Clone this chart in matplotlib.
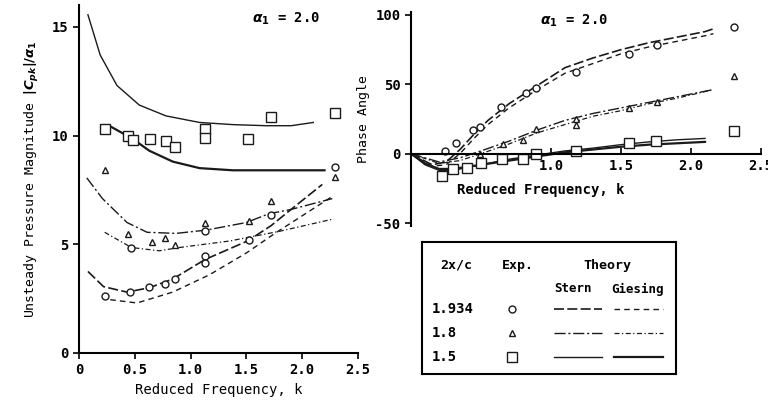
import matplotlib
matplotlib.use("Agg")
import matplotlib.pyplot as plt

plt.rcParams["font.family"] = "DejaVu Sans Mono"
plt.rcParams["font.weight"] = "bold"
plt.rcParams["mathtext.fontset"] = "dejavusans"
plt.rcParams["axes.unicode_minus"] = False

# ---- magnitude plot (left) ----
sq_k = [0.23, 0.44, 0.48, 0.64, 0.78, 0.86, 1.13, 1.13, 1.51, 1.72, 2.29]
sq_v = [10.3, 10.0, 9.8, 9.85, 9.75, 9.45, 10.3, 9.9, 9.85, 10.85, 11.05]
tri_k = [0.23, 0.44, 0.65, 0.77, 0.86, 1.13, 1.52, 1.72, 2.29]
tri_v = [8.4, 5.45, 5.1, 5.3, 4.95, 6.0, 6.05, 7.0, 8.1]
circ_k = [0.23, 0.46, 0.47, 0.63, 0.77, 0.86, 1.13, 1.13, 1.13, 1.52, 1.72, 2.29]
circ_v = [2.6, 2.8, 4.85, 3.05, 3.15, 3.4, 5.6, 4.45, 4.15, 5.2, 6.35, 8.55]

stern15_k = [0.08, 0.19, 0.34, 0.54, 0.78, 1.08, 1.38, 1.68, 1.9, 2.1]
stern15_v = [15.55, 13.7, 12.3, 11.4, 10.9, 10.6, 10.5, 10.45, 10.45, 10.6]
gies15_k = [0.27, 0.48, 0.63, 0.84, 1.08, 1.38, 1.8, 2.2]
gies15_v = [10.45, 9.85, 9.3, 8.8, 8.5, 8.4, 8.4, 8.4]
stern18_k = [0.07, 0.21, 0.43, 0.61, 0.87, 1.14, 1.5, 1.7, 1.9, 2.27]
stern18_v = [8.05, 7.1, 6.0, 5.55, 5.5, 5.65, 6.0, 6.4, 6.6, 7.1]
gies18_k = [0.23, 0.47, 0.72, 0.9, 1.35, 1.8, 2.27]
gies18_v = [5.55, 4.85, 4.7, 4.85, 5.15, 5.6, 6.15]
stern193_k = [0.08, 0.22, 0.43, 0.63, 0.84, 1.13, 1.51, 1.72, 1.9, 2.18]
stern193_v = [3.75, 3.05, 2.8, 3.0, 3.4, 4.3, 5.15, 5.85, 6.6, 7.75]
gies193_k = [0.28, 0.52, 0.84, 1.17, 1.5, 1.77, 2.27]
gies193_v = [2.45, 2.3, 2.8, 3.6, 4.6, 5.55, 7.2]

# ---- phase plot (right) ----
sq_k_r = [0.22, 0.3, 0.4, 0.5, 0.65, 0.8, 0.89, 1.18, 1.56, 1.75, 2.31]
sq_p_r = [-16, -11, -10, -7, -4, -4, -0.5, 2, 7.5, 9, 16]
tri_k_r = [0.49, 0.66, 0.8, 0.89, 1.18, 1.18, 1.56, 1.76, 2.31]
tri_p_r = [0, 7, 10, 18, 25, 21, 33, 37, 56]
circ_k_r = [0.24, 0.32, 0.44, 0.49, 0.64, 0.82, 0.89, 1.18, 1.56, 1.76, 2.31]
circ_p_r = [2, 8, 17, 19, 34, 44, 47, 59, 72, 78, 91]

ph193_k = [0, 0.15, 0.25, 0.35, 0.45, 0.55, 0.7, 0.9, 1.1, 1.3, 1.5, 1.7, 1.9, 2.1, 2.16]
ph_stern193 = [0, -8, -6, 3, 14, 24, 36, 49, 62, 69, 75, 80, 84, 88, 90]
ph_gies193 = [0, -9, -8, 0, 11, 21, 33, 46, 58, 65, 72, 77, 81, 85, 86.5]
ph18_k = [0, 0.2, 0.35, 0.5, 0.7, 0.9, 1.1, 1.3, 1.5, 1.7, 1.9, 2.15]
ph_stern18 = [0, -6, -3, 2, 9, 17, 24, 29, 33, 37, 41, 46]
ph_gies18 = [0, -7, -5, 0, 7, 15, 21, 27, 31, 36, 40, 46]
ph15_k = [0, 0.1, 0.2, 0.3, 0.4, 0.5, 0.7, 0.9, 1.1, 1.3, 1.5, 1.7, 1.9, 2.1]
ph_stern15 = [0, -8, -12, -12, -10, -8, -4, -1, 2, 4, 6.5, 8.5, 10, 11]
ph_gies15 = [0, -7, -11, -11, -9.5, -8, -5, -2, 1, 3, 5, 6.5, 7.5, 8.5]

legend_rows = ["1.934", "1.8", "1.5"]

ink = "#1a1a1a"
st_193 = dict(ls=(0, (6, 2)), lw=1.2, color=ink)
gi_193 = dict(ls=(0, (4, 3)), lw=1.0, color=ink)
st_18 = dict(ls=(0, (8, 2, 1.5, 2)), lw=1.0, color=ink)
gi_18 = dict(ls=(0, (4, 2, 1, 2)), lw=0.9, color=ink)
st_15 = dict(ls="-", lw=1.0, color=ink)
gi_15 = dict(ls="-", lw=1.6, color=ink)
mk = dict(ls="none", mfc="white", mec=ink, mew=1.0)

fig = plt.figure(figsize=(7.68, 4.04), dpi=100)

# left
ax1 = fig.add_axes([79/768, 51/404, 279/768, 348/404])
ax1.plot(stern15_k, stern15_v, **st_15)
ax1.plot(gies15_k, gies15_v, **gi_15)
ax1.plot(stern18_k, stern18_v, **st_18)
ax1.plot(gies18_k, gies18_v, **gi_18)
ax1.plot(stern193_k, stern193_v, **st_193)
ax1.plot(gies193_k, gies193_v, **gi_193)
ax1.plot(sq_k, sq_v, marker="s", ms=7, **mk)
ax1.plot(tri_k, tri_v, marker="^", ms=5, **mk)
ax1.plot(circ_k, circ_v, marker="o", ms=5, **mk)
ax1.set_xlim(0, 2.5)
ax1.set_ylim(0, 16)
ax1.set_xticks([0, 0.5, 1.0, 1.5, 2.0, 2.5])
ax1.set_xticklabels(["0", "0.5", "1.0", "1.5", "2.0", "2.5"])
ax1.set_yticks([0, 5, 10, 15])
ax1.spines[["top", "right"]].set_visible(False)
ax1.spines[["left", "bottom"]].set_linewidth(1.5)
ax1.tick_params(labelsize=10, width=1.2, length=4)
ax1.set_xlabel("Reduced Frequency, k", fontsize=10, labelpad=4)
ax1.set_ylabel(r"Unsteady Pressure Magnitude $|C_{pk}|/\alpha_1$", fontsize=9.5, labelpad=8)
ax1.text(0.62, 0.985, r"$\alpha_1$ = 2.0", transform=ax1.transAxes, fontsize=10, va="top")

# right
ax2 = fig.add_axes([411/768, (404-225.8)/404, 350/768, 213.6/404])
ax2.plot(ph193_k, ph_stern193, **st_193)
ax2.plot(ph193_k, ph_gies193, **gi_193)
ax2.plot(ph18_k, ph_stern18, **st_18)
ax2.plot(ph18_k, ph_gies18, **gi_18)
ax2.plot(ph15_k, ph_stern15, **st_15)
ax2.plot(ph15_k, ph_gies15, **gi_15)
ax2.plot(sq_k_r, sq_p_r, marker="s", ms=7, **mk)
ax2.plot(tri_k_r, tri_p_r, marker="^", ms=5, **mk)
ax2.plot(circ_k_r, circ_p_r, marker="o", ms=5, **mk)
ax2.set_xlim(0, 2.5)
ax2.set_ylim(-52, 102)
ax2.spines[["top", "right"]].set_visible(False)
ax2.spines["bottom"].set_position(("data", 0))
ax2.spines[["left", "bottom"]].set_linewidth(1.5)
ax2.set_xticks([1.0, 1.5, 2.0, 2.5])
ax2.set_yticks([-50, 0, 50, 100])
ax2.tick_params(axis="x", direction="in", labelsize=10, width=1.2, length=4, pad=4)
ax2.tick_params(axis="y", labelsize=10, width=1.2, length=4)
ax2.set_ylabel("Phase Angle", fontsize=9.5, labelpad=4)
ax2.text(0.37, 0.2, "Reduced Frequency, k", transform=ax2.transAxes,
         fontsize=10, ha="center", va="top")
ax2.text(0.37, 1.0, r"$\alpha_1$ = 2.0", transform=ax2.transAxes, fontsize=10, va="top")

# legend box
lax = fig.add_axes([422/768, 30/404, 254/768, 132/404])
lax.set_xlim(0, 254)
lax.set_ylim(132, 0)
lax.set_xticks([])
lax.set_yticks([])
for s in lax.spines.values():
    s.set_linewidth(1.5)
lax.text(18, 23, "2x/c", fontsize=9.5, va="center")
lax.text(80, 23, "Exp.", fontsize=9.5, va="center")
lax.text(185, 23, "Theory", fontsize=9.5, va="center", ha="center")
lax.text(151, 47, "Stern", fontsize=9, va="center", ha="center")
lax.text(216, 47, "Giesing", fontsize=9, va="center", ha="center")
row_y = [67, 91, 115]
row_mk = ["o", "^", "s"]
row_ms = [5, 5, 7]
row_st = [st_193, st_18, st_15]
row_gi = [gi_193, gi_18, gi_15]
for lbl, y, m, ms, st, gi in zip(legend_rows, row_y, row_mk, row_ms, row_st, row_gi):
    lax.text(10, y, lbl, fontsize=10, va="center")
    lax.plot([90], [y], marker=m, ms=ms, **mk)
    lax.plot([132, 180], [y, y], **st)
    lax.plot([192, 241], [y, y], **gi)

fig.savefig("out.png", dpi=100)
